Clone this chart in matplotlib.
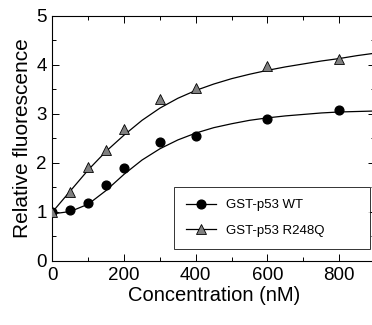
import numpy as np
import matplotlib
matplotlib.use("Agg")
import matplotlib.pyplot as plt
from matplotlib.ticker import MultipleLocator

plt.rcParams['font.family'] = ['Liberation Sans', 'DejaVu Sans']

# measured points
conc = [0, 50, 100, 150, 200, 300, 400, 600, 800]
wt_vals = [1.0, 1.03, 1.18, 1.54, 1.9, 2.43, 2.54, 2.9, 3.08]
mut_vals = [1.0, 1.41, 1.92, 2.27, 2.7, 3.31, 3.52, 3.97, 4.12]

# fitted curves
fit_x = [0, 50, 100, 150, 200, 250, 300, 350, 400, 450, 500, 550, 600,
         650, 700, 750, 800, 850, 900]
wt_fit = [0.96, 1.01, 1.16, 1.44, 1.77, 2.06, 2.29, 2.47, 2.61, 2.72, 2.8,
          2.87, 2.92, 2.96, 2.99, 3.02, 3.04, 3.05, 3.06]
mut_fit = [1.0, 1.43, 1.86, 2.24, 2.57, 2.87, 3.12, 3.32, 3.48, 3.61, 3.72,
           3.81, 3.89, 3.96, 4.02, 4.08, 4.13, 4.19, 4.24]

fig = plt.figure(figsize=(3.72, 3.25), dpi=100)
ax = fig.add_axes([0.141, 0.197, 0.867, 0.754])

ax.plot(fit_x, wt_fit, color='black', lw=0.9)
ax.plot(fit_x, mut_fit, color='black', lw=0.9)
ax.plot(conc, wt_vals, 'o', color='black', ms=6.3, zorder=3)
ax.plot(conc, mut_vals, '^', mfc='#808080', mec='black', mew=0.6, ms=7.8, zorder=3)

# legend handles: line with marker
h1, = ax.plot([], [], '-o', color='black', ms=6.3, lw=0.9)
h2, = ax.plot([], [], '-^', color='black', mfc='#808080', mec='black',
              mew=0.6, ms=7.8, lw=0.9)
leg = ax.legend([h1, h2], ['GST-p53 WT', 'GST-p53 R248Q'],
                loc='lower left', bbox_to_anchor=(0.376, 0.05, 0.61, 0.26),
                mode='expand', fontsize=9.5, frameon=True, fancybox=False,
                edgecolor='black', handlelength=2.3, labelspacing=1.0,
                borderpad=0.9, borderaxespad=0, handletextpad=0.8)
leg.get_frame().set_linewidth(0.7)

ax.set_xlim(0, 900)
ax.set_ylim(0, 5)
ax.xaxis.set_major_locator(MultipleLocator(200))
ax.xaxis.set_minor_locator(MultipleLocator(100))
ax.yaxis.set_major_locator(MultipleLocator(1))
ax.yaxis.set_minor_locator(MultipleLocator(0.5))
ax.tick_params(which='both', direction='in', top=True, right=True,
               labelsize=13.5, width=0.7, pad=4)
ax.tick_params(which='major', length=5)
ax.tick_params(which='minor', length=3)
for s in ax.spines.values():
    s.set_linewidth(0.8)

ax.set_xlabel('Concentration (nM)', fontsize=14.5, labelpad=2)
ax.set_ylabel('Relative fluorescence', fontsize=15, labelpad=3)

fig.savefig('out.png', dpi=100)
